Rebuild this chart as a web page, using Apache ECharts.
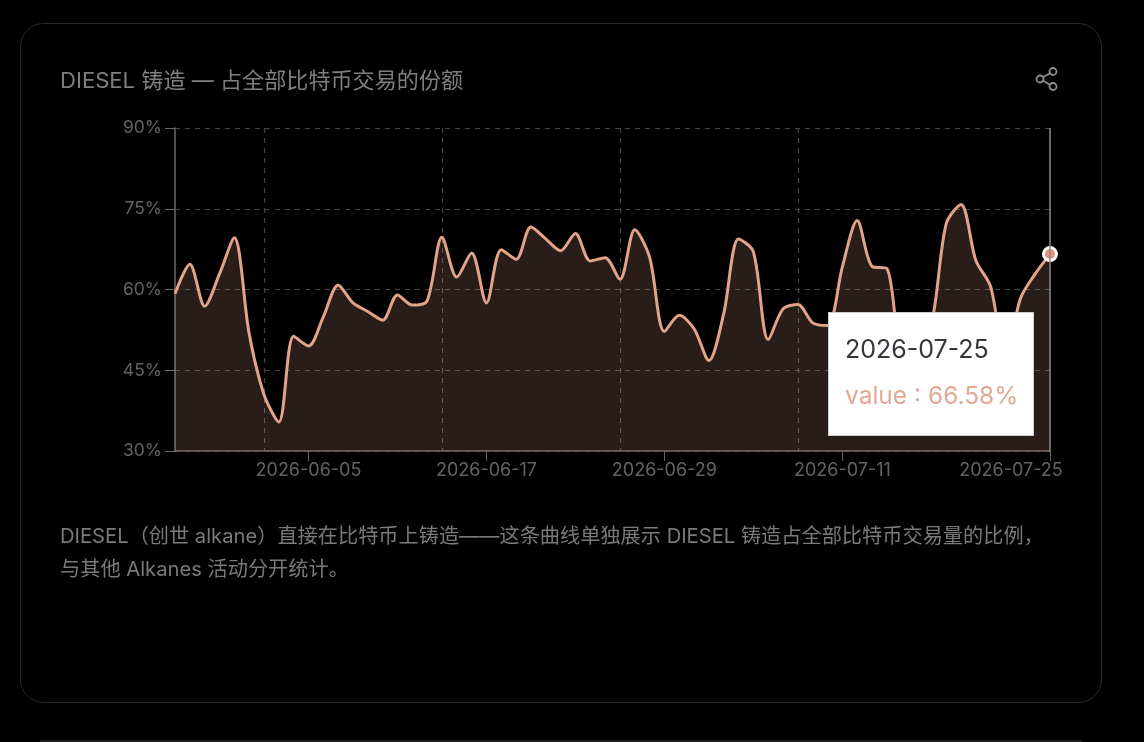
<!DOCTYPE html>
<html lang="zh">
<head>
<meta charset="utf-8">
<title>DIESEL 铸造</title>
<script src="https://cdn.jsdelivr.net/npm/echarts@6/dist/echarts.min.js"></script>
<style>
  html, body { margin: 0; padding: 0; background: #000; }
  #chart { width: 1144px; height: 742px; }
</style>
</head>
<body>
<div id="chart"></div>
<script>
// Daily DIESEL mint share of all Bitcoin transactions, in percent
const values = [
  59.2, 64.7, 56.9, 62.9, 69.6, 51.8, 40.5, 35.4, 51.3, 49.5,
  54.9, 60.8, 57.5, 55.9, 54.3, 59.0, 57.1, 57.9, 69.7, 62.3,
  66.8, 57.5, 67.4, 65.6, 71.6, 69.4, 67.2, 70.4, 65.3, 65.9,
  61.9, 71.1, 66.0, 52.2, 55.2, 52.7, 46.8, 55.5, 69.4, 67.0,
  50.7, 56.4, 57.2, 53.8, 53.3, 64.2, 72.8, 64.3, 63.9, 50.0,
  50.0, 53.6, 72.2, 75.8, 65.4, 60.5, 47.0, 58.3, 62.9, 66.58
];

// One date per value, from 2026-05-27 to 2026-07-25
const may = ['27', '28', '29', '30', '31'];
const days = [
  ...may.map(d => '2026-05-' + d),
  ...['01','02','03','04','05','06','07','08','09','10','11','12','13','14','15',
      '16','17','18','19','20','21','22','23','24','25','26','27','28','29','30'].map(d => '2026-06-' + d),
  ...['01','02','03','04','05','06','07','08','09','10','11','12','13','14','15',
      '16','17','18','19','20','21','22','23','24','25'].map(d => '2026-07-' + d)
];

const xTickLabels = ['2026-06-05', '2026-06-17', '2026-06-29', '2026-07-11', '2026-07-25'];
const xGridDates = ['2026-06-02', '2026-06-14', '2026-06-26', '2026-07-08'];
const yTicks = { min: 30, max: 90, step: 15 };

const titleText = 'DIESEL 铸造 — 占全部比特币交易的份额';
const noteLines = [
  'DIESEL（创世 alkane）直接在比特币上铸造——这条曲线单独展示 DIESEL 铸造占全部比特币交易量的比例，',
  '与其他 Alkanes 活动分开统计。'
];

const FONT = 'Inter, "Noto Sans CJK SC", sans-serif';
const LINE = '#e3a389';
const lastDay = days[days.length - 1];

const chart = echarts.init(document.getElementById('chart'), null, { renderer: 'canvas' });

chart.setOption({
  animation: false,
  backgroundColor: '#000',
  title: {
    text: titleText,
    left: 60,
    top: 70,
    padding: 0,
    textStyle: { color: '#7f7f7f', fontSize: 22.1, fontWeight: 400, fontFamily: FONT }
  },
  grid: { left: 175, top: 128, width: 875, height: 323, containLabel: false },
  xAxis: {
    type: 'category',
    boundaryGap: false,
    data: days,
    axisLine: { lineStyle: { color: '#6f6060', width: 1.5 } },
    axisTick: {
      length: 10,
      interval: (i, d) => xTickLabels.includes(d),
      lineStyle: { color: '#6f6060' }
    },
    axisLabel: {
      interval: (i, d) => xTickLabels.includes(d),
      color: '#626262',
      fontSize: 18,
      fontFamily: FONT,
      margin: 11,
      formatter: d => d === lastDay ? '{end|' + d + '}' : d,
      rich: { end: { padding: [0, 78, 0, 0], color: '#626262', fontSize: 18, fontFamily: FONT } }
    },
    splitLine: {
      show: true,
      interval: (i, d) => xGridDates.includes(d),
      lineStyle: { color: '#444', type: [5, 5], width: 1.2 }
    }
  },
  yAxis: {
    type: 'value',
    min: yTicks.min,
    max: yTicks.max,
    interval: yTicks.step,
    axisLine: { show: true, lineStyle: { color: '#6f6a6a', width: 1.5 } },
    axisTick: { show: true, length: 10, lineStyle: { color: '#6f6a6a' } },
    axisLabel: { color: '#626262', fontSize: 17.5, fontFamily: FONT, margin: 13, formatter: '{value}%' },
    splitLine: { lineStyle: { color: '#444', type: [5, 5], width: 1.2 } }
  },
  tooltip: {
    trigger: 'axis',
    alwaysShowContent: true,
    transitionDuration: 0,
    padding: 0,
    borderWidth: 0,
    backgroundColor: 'transparent',
    extraCssText: 'box-shadow:none;',
    position: () => [828, 312],
    axisPointer: { type: 'line', lineStyle: { color: '#8d8d8d', type: 'solid', width: 1.5 } },
    formatter: params => {
      const p = params[0];
      return '<div style="box-sizing:border-box;width:206px;height:124px;padding:13px 16px;background:#fff;' +
        'border:1px solid #cfcac8;font-family:Inter,sans-serif;font-size:25px;line-height:46px;">' +
        '<div style="color:#33363b;">' + p.axisValue + '</div>' +
        '<div style="color:#e2a891;font-size:24.5px;">value : ' + p.value.toFixed(2) + '%</div></div>';
    }
  },
  series: [{
    type: 'line',
    data: values,
    smooth: 0.3,
    showSymbol: false,
    symbol: 'circle',
    symbolSize: 13,
    lineStyle: { color: LINE, width: 3 },
    itemStyle: { color: LINE },
    areaStyle: { color: LINE, opacity: 0.16 },
    emphasis: {
      scale: false,
      lineStyle: { color: LINE, width: 3 },
      itemStyle: { color: '#e4907a', borderColor: '#fff', borderWidth: 3 }
    }
  }],
  graphic: [
    // Card outline
    { type: 'rect', silent: true, z: -10,
      shape: { x: 20.5, y: 23.5, width: 1081, height: 679, r: 23 },
      style: { fill: 'transparent', stroke: '#2b2b2b', lineWidth: 1 } },
    // Rule along the foot of the page
    { type: 'line', silent: true, z: -10,
      shape: { x1: 40, y1: 741, x2: 1082, y2: 741 },
      style: { stroke: '#3a3a3a', lineWidth: 1 } },
    // Share icon
    { type: 'group', x: 1047, y: 79, silent: true, children: [
      { type: 'line', shape: { x1: -7, y1: 0, x2: 6, y2: -7.5 }, style: { stroke: '#8e8e8e', lineWidth: 1.8 } },
      { type: 'line', shape: { x1: -7, y1: 0, x2: 6, y2: 7.5 }, style: { stroke: '#8e8e8e', lineWidth: 1.8 } },
      { type: 'circle', shape: { cx: -7, cy: 0, r: 3.5 }, style: { fill: '#000', stroke: '#8e8e8e', lineWidth: 1.8 } },
      { type: 'circle', shape: { cx: 6, cy: -7.5, r: 3.5 }, style: { fill: '#000', stroke: '#8e8e8e', lineWidth: 1.8 } },
      { type: 'circle', shape: { cx: 6, cy: 7.5, r: 3.5 }, style: { fill: '#000', stroke: '#8e8e8e', lineWidth: 1.8 } }
    ] },
    // Explanatory note under the chart
    ...noteLines.map((t, i) => ({
      type: 'text', silent: true, left: 60, top: 527 + i * 33,
      style: { text: t, fill: '#7a7a7a', fontSize: 20.2, fontFamily: FONT }
    }))
  ]
});

// Keep the readout pinned to the latest day
chart.dispatchAction({ type: 'showTip', seriesIndex: 0, dataIndex: values.length - 1 });
</script>
</body>
</html>
